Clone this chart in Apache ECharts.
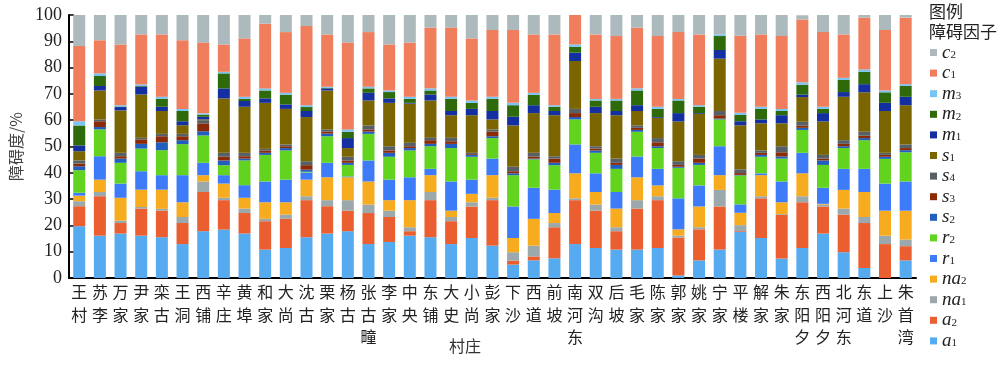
<!DOCTYPE html>
<html>
<head>
<meta charset="utf-8">
<script src="https://cdn.jsdelivr.net/npm/echarts@6/dist/echarts.min.js"></script>
<style>html,body{margin:0;padding:0;background:#fff;}#c{width:1000px;height:373px;}</style>
</head>
<body>
<div id="c"></div>
<script>
var villages = ['王村','苏李','万家','尹家','栾古','王洞','西铺','辛庄','黄埠','和家','大尚','沈古','栗家','杨古','张古疃','李家','中央','东铺','大史','小尚','彭家','下沙','西道','前坡','南河东','双沟','后坡','毛家','陈家','郭家','姚家','宁家','平楼','解家','朱家','东阳夕','西阳夕','北河东','东道','上沙','朱首湾'];
var yTicks = [0,10,20,30,40,50,60,70,80,90,100];

var a1  = [19.7,16.1,16.9,16.1,15.5,12.9,17.8,18.4,16.9,10.8,11.4,15.5,16.9,17.8,12.9,13.7,16.1,15.5,12.9,15.2,12.3,5.1,6.7,7.5,12.9,11.4,10.8,10.8,11.4,1.0,6.7,10.8,17.5,15.2,7.4,11.4,16.9,9.8,3.8,0,6.7];
var a2  = [7.6,15.0,4.0,10.3,10.1,8.0,14.9,11.2,7.8,10.8,11.1,14.1,10.4,7.8,11.8,9.5,1.7,14.1,8.7,12.0,17.3,1.5,1.5,11.8,16.7,14.2,7.0,15.6,18.2,14.4,11.8,16.4,0.3,15.1,16.6,17.4,10.3,14.3,17.1,12.9,5.4];
var na1 = [1.9,1.6,0.9,0.6,0.7,2.3,4.0,0.9,1.7,0.9,1.6,1.5,2.3,4.0,3.2,2.4,1.5,3.1,1.6,1.6,0.9,3.2,4.1,1.6,0.7,2.3,1.5,3.2,1.5,0.7,0.8,6.3,2.3,0.8,0.3,2.3,0.7,2.3,2.3,3.2,2.5];
var na2 = [2.1,4.7,8.7,6.6,7.3,5.6,2.4,5.4,4.1,6.3,4.7,6.3,8.7,8.7,8.8,4.0,10.3,6.4,2.4,3.2,8.6,5.4,10.2,3.8,9.5,4.8,7.1,8.7,4.1,2.4,7.9,5.6,4.7,8.0,4.5,8.7,0.3,7.1,9.5,9.5,11.0];
var r1  = [1.1,8.9,5.4,7.0,5.5,10.3,4.7,3.2,4.8,7.9,8.6,2.7,5.5,0.3,8.0,7.8,8.7,2.4,11.1,5.4,6.3,12.0,11.8,8.9,11.0,7.1,6.3,7.9,6.3,11.8,8.0,11.0,3.2,0.7,7.9,7.8,6.1,8.0,8.8,10.3,11.1];
var r2  = [8.6,10.2,7.9,8.6,9.5,11.8,10.4,3.8,9.4,10.1,11.1,0.3,10.1,4.4,10.1,8.7,10.2,8.6,12.7,8.7,7.8,11.9,10.8,9.3,9.5,7.8,8.8,9.4,7.9,11.6,7.8,10.2,11.0,6.3,8.7,8.7,8.7,7.9,10.9,9.4,11.1];
var s2  = [1.5,0.9,1.6,1.8,3.0,1.5,1.6,1.8,0.7,0.8,0.9,0.8,1.0,0.8,0.9,1.5,0.9,0.9,1.6,0.7,0.7,0.7,0.3,0.9,0.9,0.9,1.5,0.7,0.7,0.4,0.8,0.3,0.2,0.7,0.8,0.8,1.7,0.7,0.8,0.8,0.8];
var s3  = [1.0,2.2,0.9,1.7,2.3,1.5,3.0,1.4,0.9,0.9,0.7,1.7,0.8,0.9,0.8,0.9,0.7,1.4,1.0,0.3,1.8,0.8,0.8,1.6,1.5,0.7,0.8,0.8,1.5,0.7,1.6,1.3,0.7,0.8,1.6,0.8,0.7,0.9,0.9,0.7,0.8];
var s4  = [1.2,0.7,1.3,0.6,0.9,0.9,1.2,1.5,1.3,0.6,0.7,1.5,0.8,1.4,1.5,1.6,1.3,0.9,1.3,0.5,0.8,1.7,1.4,0.9,1.6,0.9,1.6,0.9,1.6,1.4,1.4,1.6,1.4,0.9,2.3,1.5,1.4,1.4,1.5,0.8,1.4];
var s1  = [3.5,11.0,16.1,16.5,8.7,3.3,0.3,20.7,17.5,17.5,13.5,16.8,14.8,3.3,9.5,16.5,14.9,14.2,8.6,14.3,3.8,15.7,15.1,15.6,18.2,12.6,16.5,5.5,7.7,15.1,15.6,19.9,16.8,10.3,8.7,9.4,12.7,16.5,15.0,15.9,14.9];
var m1  = [2.2,1.7,1.3,3.0,1.6,1.5,1.0,3.8,2.2,1.7,1.7,2.3,0.8,3.8,2.9,1.7,0.3,2.3,1.6,2.4,3.2,3.3,3.0,1.6,3.2,2.4,1.6,2.2,0.3,3.2,0.3,3.3,1.5,1.5,3.1,0.9,3.2,1.8,3.1,3.1,3.2];
var m2  = [7.6,3.8,0.2,0.2,3.0,3.9,0.8,5.7,0.8,3.0,3.7,1.5,0.2,2.4,1.7,2.4,1.5,1.5,4.6,2.3,4.6,4.4,4.0,1.6,2.2,2.4,4.0,5.6,3.1,4.8,2.4,5.3,2.4,4.0,1.6,3.8,1.6,4.6,4.7,4.0,4.1];
var m3  = [1.6,1.0,0.5,0.6,0.8,0.8,0.5,0.6,0.8,0.8,0.7,0.7,0.4,0.9,0.6,0.6,0.8,0.8,0.8,0.9,0.8,0.9,0.7,0.6,0.9,0.6,0.6,0.8,0.8,0.6,0.6,0.6,0.8,0.8,0.8,0.9,0.8,0.8,0.9,0.7,0.7];
var c1  = [28.6,12.6,23.1,19.0,23.7,26.1,26.9,10.4,22.2,24.6,23.1,30.1,19.9,33.0,20.8,17.5,20.6,23.1,26.3,23.6,25.4,27.7,22.2,26.9,11.2,24.5,23.9,23.1,26.9,25.4,26.9,0,29.3,27.5,27.7,23.9,28.4,16.5,19.7,23.0,25.3];
var c2  = [11.8,9.6,11.2,7.4,7.4,9.6,10.5,11.2,8.9,3.3,6.5,4.2,7.4,10.5,6.5,11.2,10.5,4.8,4.8,8.9,5.7,5.7,7.4,7.4,0,7.4,8.0,4.8,8.0,6.5,7.4,7.4,8.0,7.4,8.0,1.6,6.5,7.4,1.0,5.7,1.0];

var factorNames = ['a1','a2','na1','na2','r1','r2','s2','s3','s4','s1','m1','m2','m3','c1','c2'];
var factorData  = [a1,a2,na1,na2,r1,r2,s2,s3,s4,s1,m1,m2,m3,c1,c2];
var factorColors = ['#56aaf0','#ea5e2f','#9ba8ac','#f7ab1e','#3e7bf8','#62d420','#215ebe','#8a2a06','#566066','#7b6500','#142fa0','#2e6a0a','#78c4f2','#f07d5c','#acb9bd'];

var SERIF = '"Liberation Serif", "Times New Roman", "DejaVu Serif", serif';

var series = factorNames.map(function(n, i){
  return {
    name: n, type: 'bar', stack: 'total', data: factorData[i], barWidth: 12,
    itemStyle: {color: factorColors[i]}, emphasis: {disabled: true}
  };
});

var chart = echarts.init(document.getElementById('c'), null, {renderer: 'canvas'});
chart.setOption({
  animation: false,
  backgroundColor: '#fff',
  grid: {left: 57, right: 84, top: 15, bottom: 95, containLabel: false},
  legend: {
    orient: 'vertical', left: 930, top: 43, height: 330, padding: 0,
    icon: 'rect', itemWidth: 7, itemHeight: 7, itemGap: 1.6,
    data: factorNames.slice().reverse(),
    formatter: function(name){
      var m = name.match(/^([a-z]+)(\d)$/);
      return '{i|' + m[1] + '}{s|' + m[2] + '}';
    },
    textStyle: {
      fontFamily: SERIF,
      rich: {
        i: {fontFamily: SERIF, fontStyle: 'italic', fontSize: 19, lineHeight: 16, color: '#222', verticalAlign: 'middle'},
        s: {fontFamily: SERIF, fontSize: 11, lineHeight: 8, color: '#222', verticalAlign: 'bottom'}
      }
    }
  },
  xAxis: {
    type: 'category', data: villages,
    axisLine: {lineStyle: {color: '#000', width: 2}},
    axisTick: {show: false},
    axisLabel: {
      interval: 0, margin: 3, fontSize: 16, lineHeight: 22.5, color: '#222',
      fontFamily: 'Noto Sans CJK SC',
      formatter: function(v){ return v.split('').join('\n'); }
    }
  },
  yAxis: {
    type: 'value', min: yTicks[0], max: yTicks[yTicks.length-1], interval: 10,
    name: '障碍度/%', nameLocation: 'middle', nameGap: 38,
    nameTextStyle: {fontSize: 16, color: '#444', fontFamily: 'Noto Sans CJK SC'},
    axisLine: {show: true, lineStyle: {color: '#000', width: 2}},
    axisTick: {show: true, inside: true, length: 5, lineStyle: {color: '#000', width: 1.5}},
    splitLine: {show: false},
    axisLabel: {fontFamily: SERIF, fontSize: 18, color: '#222', margin: 7}
  },
  graphic: [
    {type: 'text', left: 929, top: 3, style: {text: '图例', font: '17px "Noto Sans CJK SC"', fill: '#222'}},
    {type: 'text', left: 929, top: 23, style: {text: '障碍因子', font: '17px "Noto Sans CJK SC"', fill: '#222'}},
    {type: 'text', left: 449, top: 338, style: {text: '村庄', font: '16px "Noto Sans CJK SC"', fill: '#333'}}
  ],
  series: series
});
</script>
</body>
</html>
